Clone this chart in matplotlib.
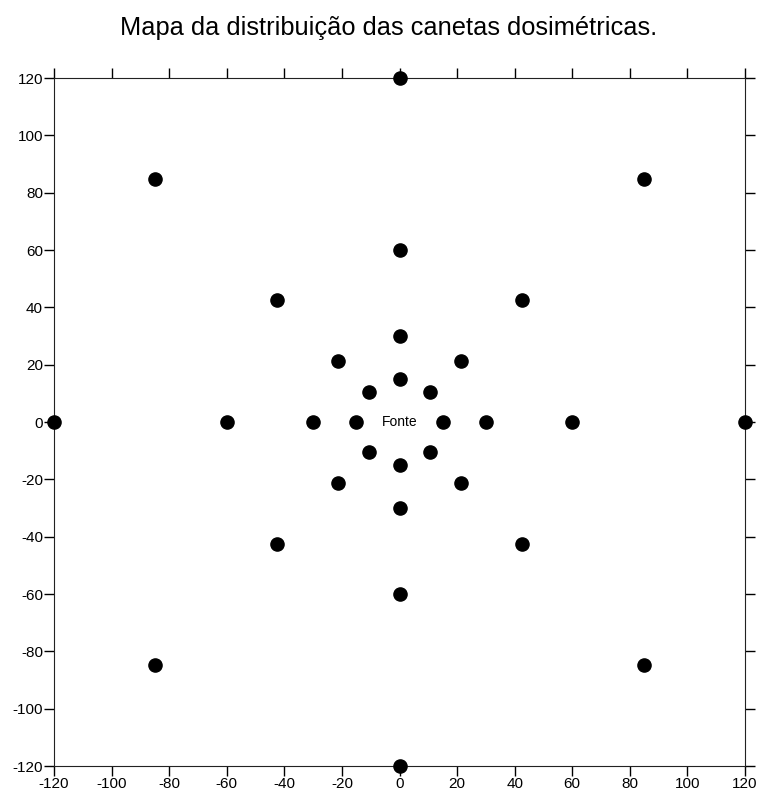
import matplotlib.pyplot as plt
import numpy as np

plt.rcParams['font.family'] = ['Liberation Sans', 'DejaVu Sans']
plt.rcParams['axes.unicode_minus'] = False

# posicoes das canetas dosimetricas (cm)
x_pos = [0, 0, 0, 0, 0, 0, 0, 0,
         15, 30, 60, 120, -15, -30, -60, -120,
         10.6, 21.2, 42.4, 84.9, -10.6, -21.2, -42.4, -84.9,
         10.6, 21.2, 42.4, 84.9, -10.6, -21.2, -42.4, -84.9]
y_pos = [15, 30, 60, 120, -15, -30, -60, -120,
         0, 0, 0, 0, 0, 0, 0, 0,
         10.6, 21.2, 42.4, 84.9, -10.6, -21.2, -42.4, -84.9,
         -10.6, -21.2, -42.4, -84.9, 10.6, 21.2, 42.4, 84.9]
ticks = np.arange(-120, 121, 20)

fig = plt.figure(figsize=(7.61, 7.96), dpi=100)
ax = fig.add_axes([54/761, 1-766/796, 691/761, 688/796])

ax.scatter(x_pos, y_pos, s=90, color='black', zorder=3, clip_on=False)
ax.text(0, 0, 'Fonte', ha='center', va='center', fontsize=10)

ax.set_xlim(-120, 120)
ax.set_ylim(-120, 120)
ax.set_xticks(ticks)
ax.set_yticks(ticks)
ax.tick_params(direction='out', length=7, width=1, labelsize=11, pad=1,
               top=True, right=True, labeltop=False, labelright=False)
for sp in ax.spines.values():
    sp.set_linewidth(0.8)
    sp.set_color('#222222')

fig.text(389/761, 1-28/796, 'Mapa da distribuição das canetas dosimétricas.',
         ha='center', va='center', fontsize=18.3)

fig.savefig('out.png', dpi=100)
